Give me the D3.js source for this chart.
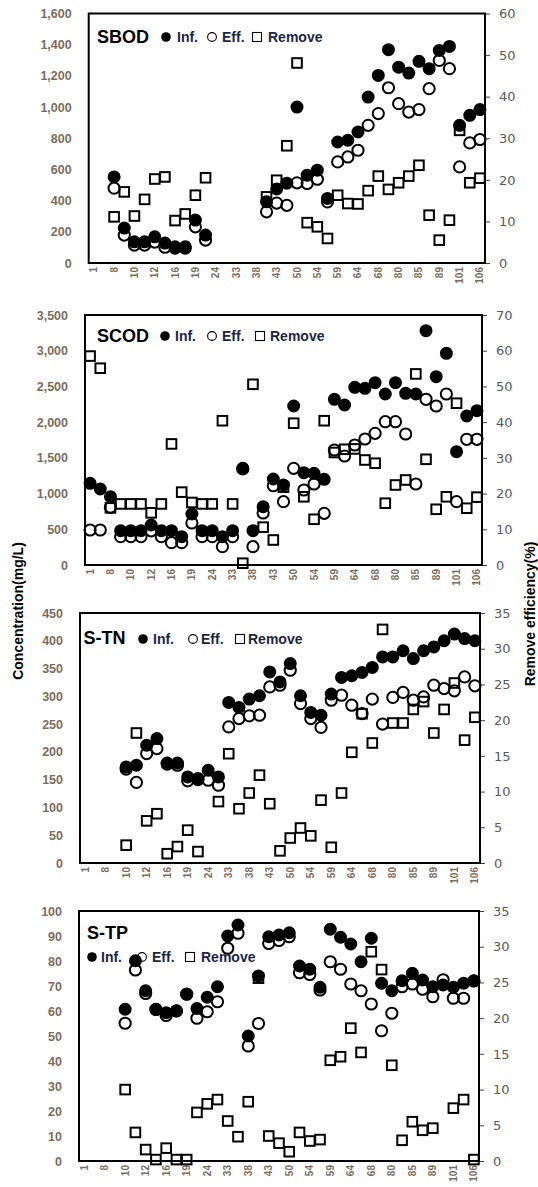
<!DOCTYPE html>
<html lang="en">
<head>
<meta charset="UTF-8" />
<title>Soluble SBOD / SCOD / S-TN / S-TP removal</title>
<script src="https://d3js.org/d3.v7.min.js"></script>
<style>
  body { margin: 0; background: #fff; }
  svg { display: block; }
  .ylab text { font-family: 'Liberation Sans', Arial, sans-serif; font-weight: bold; font-size: 12.5px; fill: #7b6c5b; }
  .rlab text { font-family: 'DejaVu Sans', Verdana, sans-serif; font-size: 13px; fill: #595959; }
  .rlab line { stroke: #404040; }
  .xlab text { font-family: 'Liberation Sans', Arial, sans-serif; font-weight: bold; font-size: 10px; fill: #7b6c5b; }
  .title { font-family: 'Liberation Sans', Arial, sans-serif; font-weight: bold; font-size: 18px; fill: #000; }
  .leg { font-family: 'Liberation Sans', Arial, sans-serif; font-weight: bold; font-size: 14px; fill: #1c2541; }
  .axt { font-family: 'Liberation Sans', Arial, sans-serif; font-weight: bold; font-size: 14px; fill: #000; }
</style>
</head>
<body>
<svg width="538" height="1187"></svg>
<script>
// sampling days (every other one is labelled on the axis)
const days = ["1","5","8","9","10","11","12","14","16","17","19","22","24","29","33","36","38","40","43","47",
              "50","52","54","57","59","61","64","66","68","75","80","82","85","87","89","96","101","103","106"];

const sbodInf = [null,null,552,224,136,136,168,128,104,104,275,179,null,null,null,null,null,392,475,512,
                 1000,563,595,414,776,787,840,1064,1203,1368,1256,1218,1293,1246,1363,1389,883,947,984];
const sbodEff = [null,null,480,179,115,115,134,101,96,96,232,147,null,null,null,null,null,328,384,370,
                 514,510,537,392,648,680,723,883,958,1124,1022,968,984,1118,1299,1246,616,770,792];
const sbodRem = [null,null,11.1,17.1,11.3,15.3,20.2,20.7,10.2,11.8,16.3,20.5,null,null,null,null,null,15.9,19.9,28.2,
                 48.1,9.7,8.7,5.9,16.3,14.3,14.2,17.4,20.9,17.7,19.3,20.9,23.5,11.5,5.5,10.3,31.9,19.3,20.4];

const scodInf = [1143,1064,956,480,480,480,560,480,480,397,714,480,480,397,480,1353,480,816,1204,1120,
                 2226,1293,1283,1200,2320,2240,2488,2473,2553,2394,2553,2404,2394,3280,2637,2963,1587,2086,2160];
const scodEff = [490,490,807,397,397,397,478,397,313,313,588,397,397,257,397,1345,257,728,1110,887,
                 1353,1050,1134,723,1610,1526,1680,1764,1843,2006,2006,1834,1134,2320,2226,2394,887,1760,1760];
const scodRem = [58.5,55.1,16,17.1,17.1,17.1,14.6,17.1,33.9,20.4,17.5,17.1,17.1,40.4,17.1,0.5,50.6,10.6,7.0,21.8,
                 39.7,19.1,12.8,40.4,31.5,32.4,32.5,29.4,28.5,17.3,22.4,23.8,53.5,29.6,15.6,19.1,45.3,15.9,19.0];

const tnInf = [null,null,null,null,173,176,212,224,180,180,155,152,167,155,289,280,295,301,344,326,
               359,301,271,266,304,334,337,343,352,371,371,382,368,382,389,400,412,404,400];
const tnEff = [null,null,null,null,169,145,197,206,178,176,148,150,149,140,245,260,265,266,317,320,
               347,287,260,244,293,302,284,269,295,250,298,307,293,299,320,314,310,335,319];
const tnRem = [null,null,null,null,2.5,18.2,5.9,6.9,1.3,2.3,4.6,1.6,null,8.6,15.3,7.6,9.8,12.3,8.3,1.7,
               3.5,4.9,3.8,8.8,2.2,9.8,15.5,20.9,16.8,32.7,19.6,19.6,21.5,22.6,18.2,21.5,25.2,17.2,20.4];

const tpInf = [null,null,null,null,60.7,80.1,68.1,60.7,59.3,60.1,66.8,61,65.5,69.7,90,94.4,50,74,89.7,90.4,
               91.3,78,76.7,69.5,92.7,89.5,86.8,79.7,89.1,71.1,68.1,72.1,75.1,72.4,69.7,70.4,69.5,71.1,72.1];
const tpEff = [null,null,null,null,55.1,76.4,67,60.6,58.2,60,66.7,57.1,59.7,63.7,85.1,91.1,46,55,87,88.2,
               89.7,75.3,74.6,68.4,79.7,76.7,70.8,68.1,62.8,52.1,59.1,69.7,70.8,68.7,65.7,72.5,65.1,65.1,72];
const tpRem = [null,null,null,null,10.0,4.0,1.6,0.2,1.8,0.2,0.2,6.8,8.0,8.6,5.6,3.4,8.3,25.6,3.5,2.5,
               1.3,4.0,2.8,3.0,14.1,14.6,18.6,15.2,29.3,26.8,13.4,2.9,5.5,4.3,4.6,null,7.4,8.6,0.2];

const svg = d3.select("svg");

const panels = [
  { name: "SBOD", inf: sbodInf, eff: sbodEff, rem: sbodRem, yMax: 1600, yStep: 200, rMax: 60, rStep: 10,
    left: 88.7, right: 485, top: 13.5, bottom: 263,
    title: [97, 43], legY: 37, legX: [166, 177, 212, 222, 257, 268] },
  { name: "SCOD", inf: scodInf, eff: scodEff, rem: scodRem, yMax: 3500, yStep: 500, rMax: 70, rStep: 10,
    left: 85, right: 482, top: 315, bottom: 565,
    title: [97, 342], legY: 336, legX: [165, 175, 212, 222, 260, 270] },
  { name: "S-TN", inf: tnInf, eff: tnEff, rem: tnRem, yMax: 450, yStep: 50, rMax: 35, rStep: 5,
    left: 80, right: 480, top: 613, bottom: 863,
    title: [83.5, 644], legY: 639, legX: [143, 153, 193, 201, 240, 248] },
  { name: "S-TP", inf: tpInf, eff: tpEff, rem: tpRem, yMax: 100, yStep: 10, rMax: 35, rStep: 5,
    left: 79, right: 479, top: 911, bottom: 1161,
    title: [87, 939], legY: 957, legX: [92, 101, 142, 152, 190, 201] }
];

panels.forEach(p => {
  const g = svg.append("g");
  const x = d3.scaleBand().domain(days).range([p.left, p.right]);
  const cx = d => x(d) + x.bandwidth() / 2;
  const y = d3.scaleLinear().domain([0, p.yMax]).range([p.bottom, p.top]);
  const r = d3.scaleLinear().domain([0, p.rMax]).range([p.bottom, p.top]);

  // left axis (labels only)
  g.append("g").attr("class", "ylab")
    .attr("transform", `translate(${p.left},0)`)
    .call(d3.axisLeft(y).tickValues(d3.range(0, p.yMax + 1, p.yStep))
      .tickSize(0).tickPadding(17).tickFormat(d3.format(",")))
    .call(a => a.select(".domain").remove());

  // right axis with outward ticks
  g.append("g").attr("class", "rlab")
    .attr("transform", `translate(${p.right},0)`)
    .call(d3.axisRight(r).tickValues(d3.range(0, p.rMax + 1, p.rStep))
      .tickSize(5).tickPadding(9))
    .call(a => a.select(".domain").remove());

  // x axis, every other day labelled, rotated
  g.append("g").attr("class", "xlab")
    .attr("transform", `translate(0,${p.bottom})`)
    .call(d3.axisBottom(x).tickValues(days.filter((d, i) => i % 2 === 0)).tickSize(0))
    .call(a => a.select(".domain").remove())
    .selectAll("text")
    .attr("transform", "rotate(-90)")
    .attr("x", -4).attr("y", 0).attr("dy", "0.35em")
    .style("text-anchor", "end");

  // frame
  g.append("rect")
    .attr("x", p.left).attr("y", p.top)
    .attr("width", p.right - p.left).attr("height", p.bottom - p.top)
    .attr("fill", "none").attr("stroke", "#000").attr("stroke-width", 2);

  const pts = (arr) => days.map((d, i) => ({ d, v: arr[i] })).filter(o => o.v != null);

  g.append("g").selectAll("circle").data(pts(p.inf)).join("circle")
    .attr("cx", o => cx(o.d)).attr("cy", o => y(o.v)).attr("r", 5.6)
    .attr("fill", "#000").attr("stroke", "#000").attr("stroke-width", 1.8);

  // open markers are hollow: whatever lies under them shows through
  g.append("g").selectAll("circle").data(pts(p.eff)).join("circle")
    .attr("cx", o => cx(o.d)).attr("cy", o => y(o.v)).attr("r", 5.6)
    .attr("fill", "none").attr("stroke", "#000").attr("stroke-width", 2);

  g.append("g").selectAll("rect").data(pts(p.rem)).join("rect")
    .attr("x", o => cx(o.d) - 4.8).attr("y", o => r(o.v) - 4.8)
    .attr("width", 9.6).attr("height", 9.6)
    .attr("fill", "none").attr("stroke", "#000").attr("stroke-width", 2);

  // legend
  g.append("text").attr("class", "title").attr("x", p.title[0]).attr("y", p.title[1]).text(p.name);
  const ly = p.legY, lx = p.legX;
  g.append("circle").attr("cx", lx[0]).attr("cy", ly).attr("r", 4.8).attr("fill", "#000");
  g.append("text").attr("class", "leg").attr("x", lx[1]).attr("y", ly + 5).text("Inf.");
  g.append("circle").attr("cx", lx[2]).attr("cy", ly).attr("r", 4.4)
    .attr("fill", "none").attr("stroke", "#000").attr("stroke-width", 1.1);
  g.append("text").attr("class", "leg").attr("x", lx[3]).attr("y", ly + 5).text("Eff.");
  g.append("rect").attr("x", lx[4] - 4.5).attr("y", ly - 4.5).attr("width", 9).attr("height", 9)
    .attr("fill", "none").attr("stroke", "#000").attr("stroke-width", 1.1);
  g.append("text").attr("class", "leg").attr("x", lx[5]).attr("y", ly + 5).text("Remove");
});

// shared axis titles
svg.append("text").attr("class", "axt")
  .attr("transform", "translate(23,611) rotate(-90)")
  .attr("text-anchor", "middle").text("Concentration(mg/L)");
svg.append("text").attr("class", "axt")
  .attr("transform", "translate(535,614) rotate(-90)")
  .attr("text-anchor", "middle").text("Remove efficiency(%)");
</script>
</body>
</html>
